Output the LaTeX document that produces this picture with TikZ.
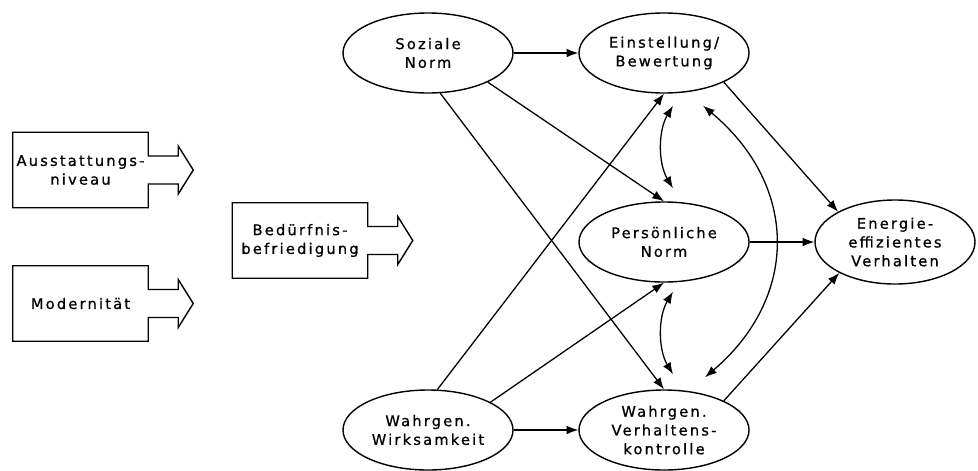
\documentclass[tikz,border=0pt]{standalone}
\usepackage{fontspec}
\setmainfont{DejaVu Sans}[LetterSpace=15,FakeBold=0.8]
\usetikzlibrary{arrows.meta,shapes.geometric}

\begin{document}
\begin{tikzpicture}[x=0.03cm, y=-0.03cm,
		konstrukt/.style={ellipse, draw, line width=1.2pt, minimum width=5.1cm, minimum height=2.4cm, inner sep=0pt, align=center, font=\fontsize{12.5}{16}\selectfont},
		faktor/.style={rectangle, minimum width=4.05cm, minimum height=2.25cm, inner sep=0pt, align=center, font=\fontsize{12.5}{16}\selectfont},
		pfeil/.style={-{Latex[length=10pt,width=7.5pt]}, line width=1.1pt},
		doppelpfeil/.style={{Latex[length=10pt,width=7.5pt]}-{Latex[length=10pt,width=7.5pt]}, line width=1.1pt}]
				\useasboundingbox (0,0) rectangle (978,470);
				
				\node[konstrukt] (soz) at (428,53) {Soziale\\Norm};
				\node[konstrukt] (ein) at (664,53) {Einstellung/\\Bewertung};
				\node[konstrukt] (per) at (664,242) {Persönliche\\Norm};
				\node[konstrukt, minimum width=4.8cm, minimum height=2.52cm] (ene) at (895,242) {Energie-\\effizientes\\Verhalten};
				\node[konstrukt] (wir) at (428,430) {Wahrgen.\\Wirksamkeit};
				\node[konstrukt] (kon) at (664,430) {Wahrgen.\\Verhaltens-\\kontrolle};
				
				\node[faktor] (aus) at (80.5,170) {Ausstattungs-\\niveau};
				\node[faktor] (mod) at (80.5,303.5) {Modernität};
				\node[faktor] (bed) at (300,240.5) {Bedürfnis-\\befriedigung};
				
				\foreach \f in {aus,mod,bed}
					\draw[line width=1.2pt] (\f.south east) -- (\f.south west) -- (\f.north west) -- (\f.north east) -- ([shift={(0,-14)}]\f.east) -- ++(30,0) -- ++(0,-10) -- ++(15,24) -- ++(-15,24) -- ++(0,-10) -- ++(-30,0) -- cycle;
				
				\draw[pfeil] (soz) -- (ein);
				\draw[pfeil] (soz.-26) -- (per.north);
				\draw[pfeil] (soz.-73) -- (kon.north);
				\draw[pfeil] (ein.-26) -- (ene.152);
				\draw[pfeil] (per) -- (ene);
				\draw[pfeil] (kon.26) -- (ene.209);
				\draw[pfeil] (wir) -- (kon);
				\draw[pfeil] (wir.77) -- (ein.south);
				\draw[pfeil] (wir.24) -- (per.south);
				
				\draw[doppelpfeil] ([shift={(9,12)}]ein.south) .. controls +(-15,25) and +(-15,-25) .. ([shift={(9,-13)}]per.north);
				\draw[doppelpfeil] ([shift={(9,9)}]per.south) .. controls +(-15,25) and +(-15,-25) .. ([shift={(9,-15)}]kon.north);
				\draw[doppelpfeil] ([shift={(39,12)}]ein.south) .. controls +(96,80) and +(94,-80) .. ([shift={(41,-12)}]kon.north);
			\end{tikzpicture}
\end{document}
